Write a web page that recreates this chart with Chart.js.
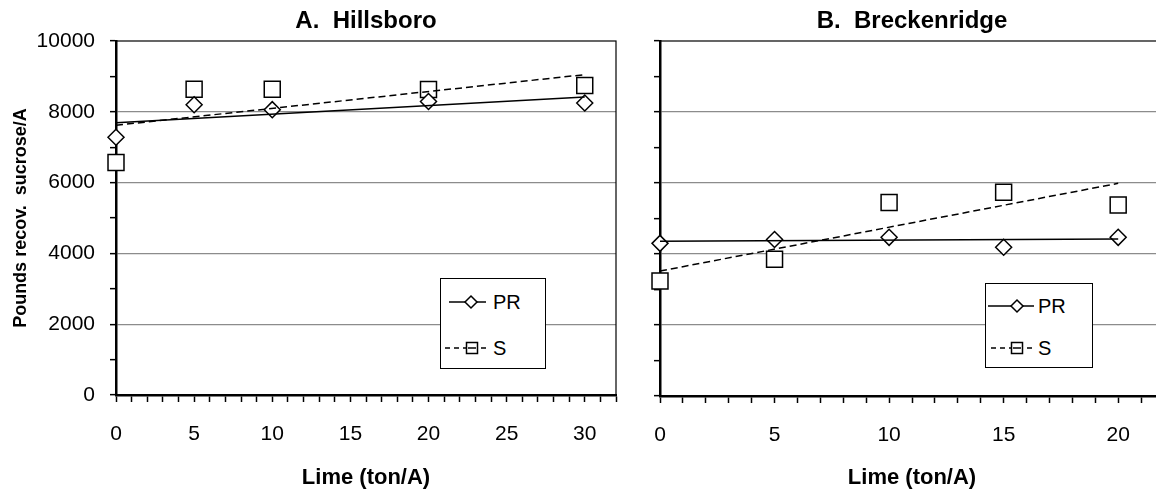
<!DOCTYPE html>
<html>
<head>
<meta charset="utf-8">
<script src="https://cdn.jsdelivr.net/npm/chart.js@4/dist/chart.umd.min.js"></script>
<style>
  html, body { margin: 0; padding: 0; background: #fff; width: 1156px; height: 491px; overflow: hidden; }
  #wrap { position: relative; width: 1156px; height: 491px; overflow: hidden; }
  canvas { position: absolute; top: 0; }
  #cA { left: 0; }
  #cB { left: 620px; }
  .leg { position: absolute; background: #fff; border: 1px solid #000; box-sizing: border-box; }
  .leg svg { position: absolute; left: 0; top: 0; }
</style>
</head>
<body>
<div id="wrap">
  <canvas id="cA" width="640" height="491"></canvas>
  <canvas id="cB" width="560" height="491"></canvas>
  <div class="leg" style="left:440px;top:278px;width:106px;height:91px;">
    <svg width="106" height="91">
      <line x1="8" y1="23" x2="45" y2="23" stroke="#000" stroke-width="1.5"/>
      <polygon points="24,23 30,17 36,23 30,29" fill="#fff" stroke="#000" stroke-width="1.5"/>
      <text x="52" y="30" font-family="Liberation Sans, Arial, sans-serif" font-size="20">PR</text>
      <line x1="4" y1="69" x2="47" y2="69" stroke="#000" stroke-width="1.5" stroke-dasharray="5,4"/>
      <rect x="25.5" y="63.5" width="11" height="11" fill="#fff" stroke="#000" stroke-width="1.5"/>
      <line x1="27" y1="69" x2="35" y2="69" stroke="#000" stroke-width="1.5"/>
      <text x="52" y="76" font-family="Liberation Sans, Arial, sans-serif" font-size="20">S</text>
    </svg>
  </div>
  <div class="leg" style="left:985px;top:283px;width:108px;height:85px;">
    <svg width="108" height="85">
      <line x1="2" y1="22" x2="48" y2="22" stroke="#000" stroke-width="1.5"/>
      <polygon points="25,22 31,16 37,22 31,28" fill="#fff" stroke="#000" stroke-width="1.5"/>
      <text x="52" y="29" font-family="Liberation Sans, Arial, sans-serif" font-size="20">PR</text>
      <line x1="5" y1="64" x2="48" y2="64" stroke="#000" stroke-width="1.5" stroke-dasharray="5,4"/>
      <rect x="25.5" y="58.5" width="11" height="11" fill="#fff" stroke="#000" stroke-width="1.5"/>
      <line x1="27" y1="64" x2="35" y2="64" stroke="#000" stroke-width="1.5"/>
      <text x="52" y="71" font-family="Liberation Sans, Arial, sans-serif" font-size="20">S</text>
    </svg>
  </div>
</div>
<script>
// ---- Data ----
const limeA = [0, 5, 10, 20, 30];
const prA = [7280, 8200, 8060, 8290, 8250];
const sA = [6570, 8640, 8640, 8630, 8740];
const trendXA = [0, 30];
const prTrendA = [7690, 8420];
const sTrendA = [7620, 9050];

const limeB = [0, 5, 10, 15, 20];
const prB = [4300, 4410, 4470, 4190, 4470];
const sB = [3240, 3850, 5450, 5740, 5380];
const trendXB = [0, 20];
const prTrendB = [4360, 4420];
const sTrendB = [3520, 5990];

const yTickLabels = ['0', '2000', '4000', '6000', '8000', '10000'];
const titles = ['A.  Hillsboro', 'B.  Breckenridge'];
const seriesNames = ['PR', 'S'];
const xTitle = 'Lime (ton/A)';
const yTitle = 'Pounds recov.  sucrose/A';

const FONT = "'Liberation Sans', Arial, sans-serif";
Chart.defaults.font.family = FONT;
Chart.defaults.color = '#000';

const pts = (xs, ys) => xs.map((x, i) => ({x: x, y: ys[i]}));

const frame = {
  id: 'frame',
  beforeDatasetsDraw(chart) {
    const a = chart.chartArea, ctx = chart.ctx;
    ctx.save();
    ctx.strokeStyle = '#000';
    ctx.lineWidth = 1.2;
    ctx.strokeRect(a.left, a.top, a.right - a.left, a.bottom - a.top);
    ctx.restore();
  }
};

function makeChart(id, opt) {
  return new Chart(document.getElementById(id), {
    type: 'scatter',
    data: {
      datasets: [
        { label: seriesNames[0] + ' trend', data: pts(opt.tx, opt.prT), showLine: true, pointRadius: 0,
          borderColor: '#000', borderWidth: 1.5, fill: false, clip: false },
        { label: seriesNames[1] + ' trend', data: pts(opt.tx, opt.sT), showLine: true, pointRadius: 0,
          borderColor: '#000', borderWidth: 1.5, borderDash: [7, 4], fill: false, clip: false },
        { label: seriesNames[0], data: pts(opt.x, opt.pr), showLine: false, pointStyle: 'rectRot', clip: false,
          pointRadius: 8, pointBackgroundColor: '#fff', pointBorderColor: '#000', pointBorderWidth: 1.5 },
        { label: seriesNames[1], data: pts(opt.x, opt.s), showLine: false, pointStyle: 'rect', clip: false,
          pointRadius: 11.3, pointBackgroundColor: '#fff', pointBorderColor: '#000', pointBorderWidth: 1.5 }
      ]
    },
    options: {
      responsive: false,
      animation: false,
      devicePixelRatio: 1,
      layout: { padding: { left: 0, right: opt.padRight, top: 0, bottom: 0 } },
      plugins: {
        legend: { display: false },
        tooltip: { enabled: false },
        title: { display: true, text: opt.title, fullSize: false, color: '#000',
          font: { size: 24, weight: 'bold', family: FONT }, padding: { top: 7, bottom: 5.2 } }
      },
      scales: {
        x: {
          type: 'linear', min: 0, max: opt.xmax,
          afterFit: s => { s.height = opt.xh; s.paddingRight = 0; s.paddingLeft = 0; },
          border: { color: '#000', width: 2.5 },
          grid: { drawOnChartArea: false, drawTicks: true, tickLength: 7, tickColor: '#000', tickWidth: 1.5 },
          ticks: { stepSize: 1, autoSkip: false, maxRotation: 0, padding: 20,
            font: { size: 21, family: FONT }, color: '#000',
            callback: v => (v % 5 === 0 ? String(v) : '') },
          title: { display: true, text: xTitle, color: '#000',
            font: { size: 22, weight: 'bold', family: FONT }, padding: { top: 0, bottom: 0 } }
        },
        y: {
          type: 'linear', min: 0, max: 10000,
          afterFit: s => { s.width = opt.yw; },
          border: { color: '#000', width: 2.5 },
          grid: {
            color: c => (c.tick && c.tick.value % 2000 === 0 && c.tick.value > 0 && c.tick.value < 10000) ? '#8c8c8c' : 'rgba(0,0,0,0)',
            lineWidth: 1.3, drawTicks: true, tickLength: 6, tickColor: '#000', tickWidth: 1.5
          },
          ticks: { stepSize: 1000, autoSkip: false, padding: 15,
            font: { size: 21, family: FONT }, color: '#000',
            callback: v => (opt.yLabels && v % 2000 === 0 ? yTickLabels[v / 2000] : '') },
          title: { display: opt.yLabels, text: yTitle, color: '#000',
            font: { size: 18, weight: 'bold', family: FONT }, padding: { top: 10, bottom: 0 } }
        }
      }
    },
    plugins: [frame]
  });
}

makeChart('cA', { x: limeA, pr: prA, s: sA, tx: trendXA, prT: prTrendA, sT: sTrendA,
  xmax: 32, title: titles[0], padRight: 24, yw: 116, xh: 96, yLabels: true });
makeChart('cB', { x: limeB, pr: prB, s: sB, tx: trendXB, prT: prTrendB, sT: sTrendB,
  xmax: 22, title: titles[1], padRight: 16, yw: 40, xh: 95, yLabels: false });
</script>
</body>
</html>
